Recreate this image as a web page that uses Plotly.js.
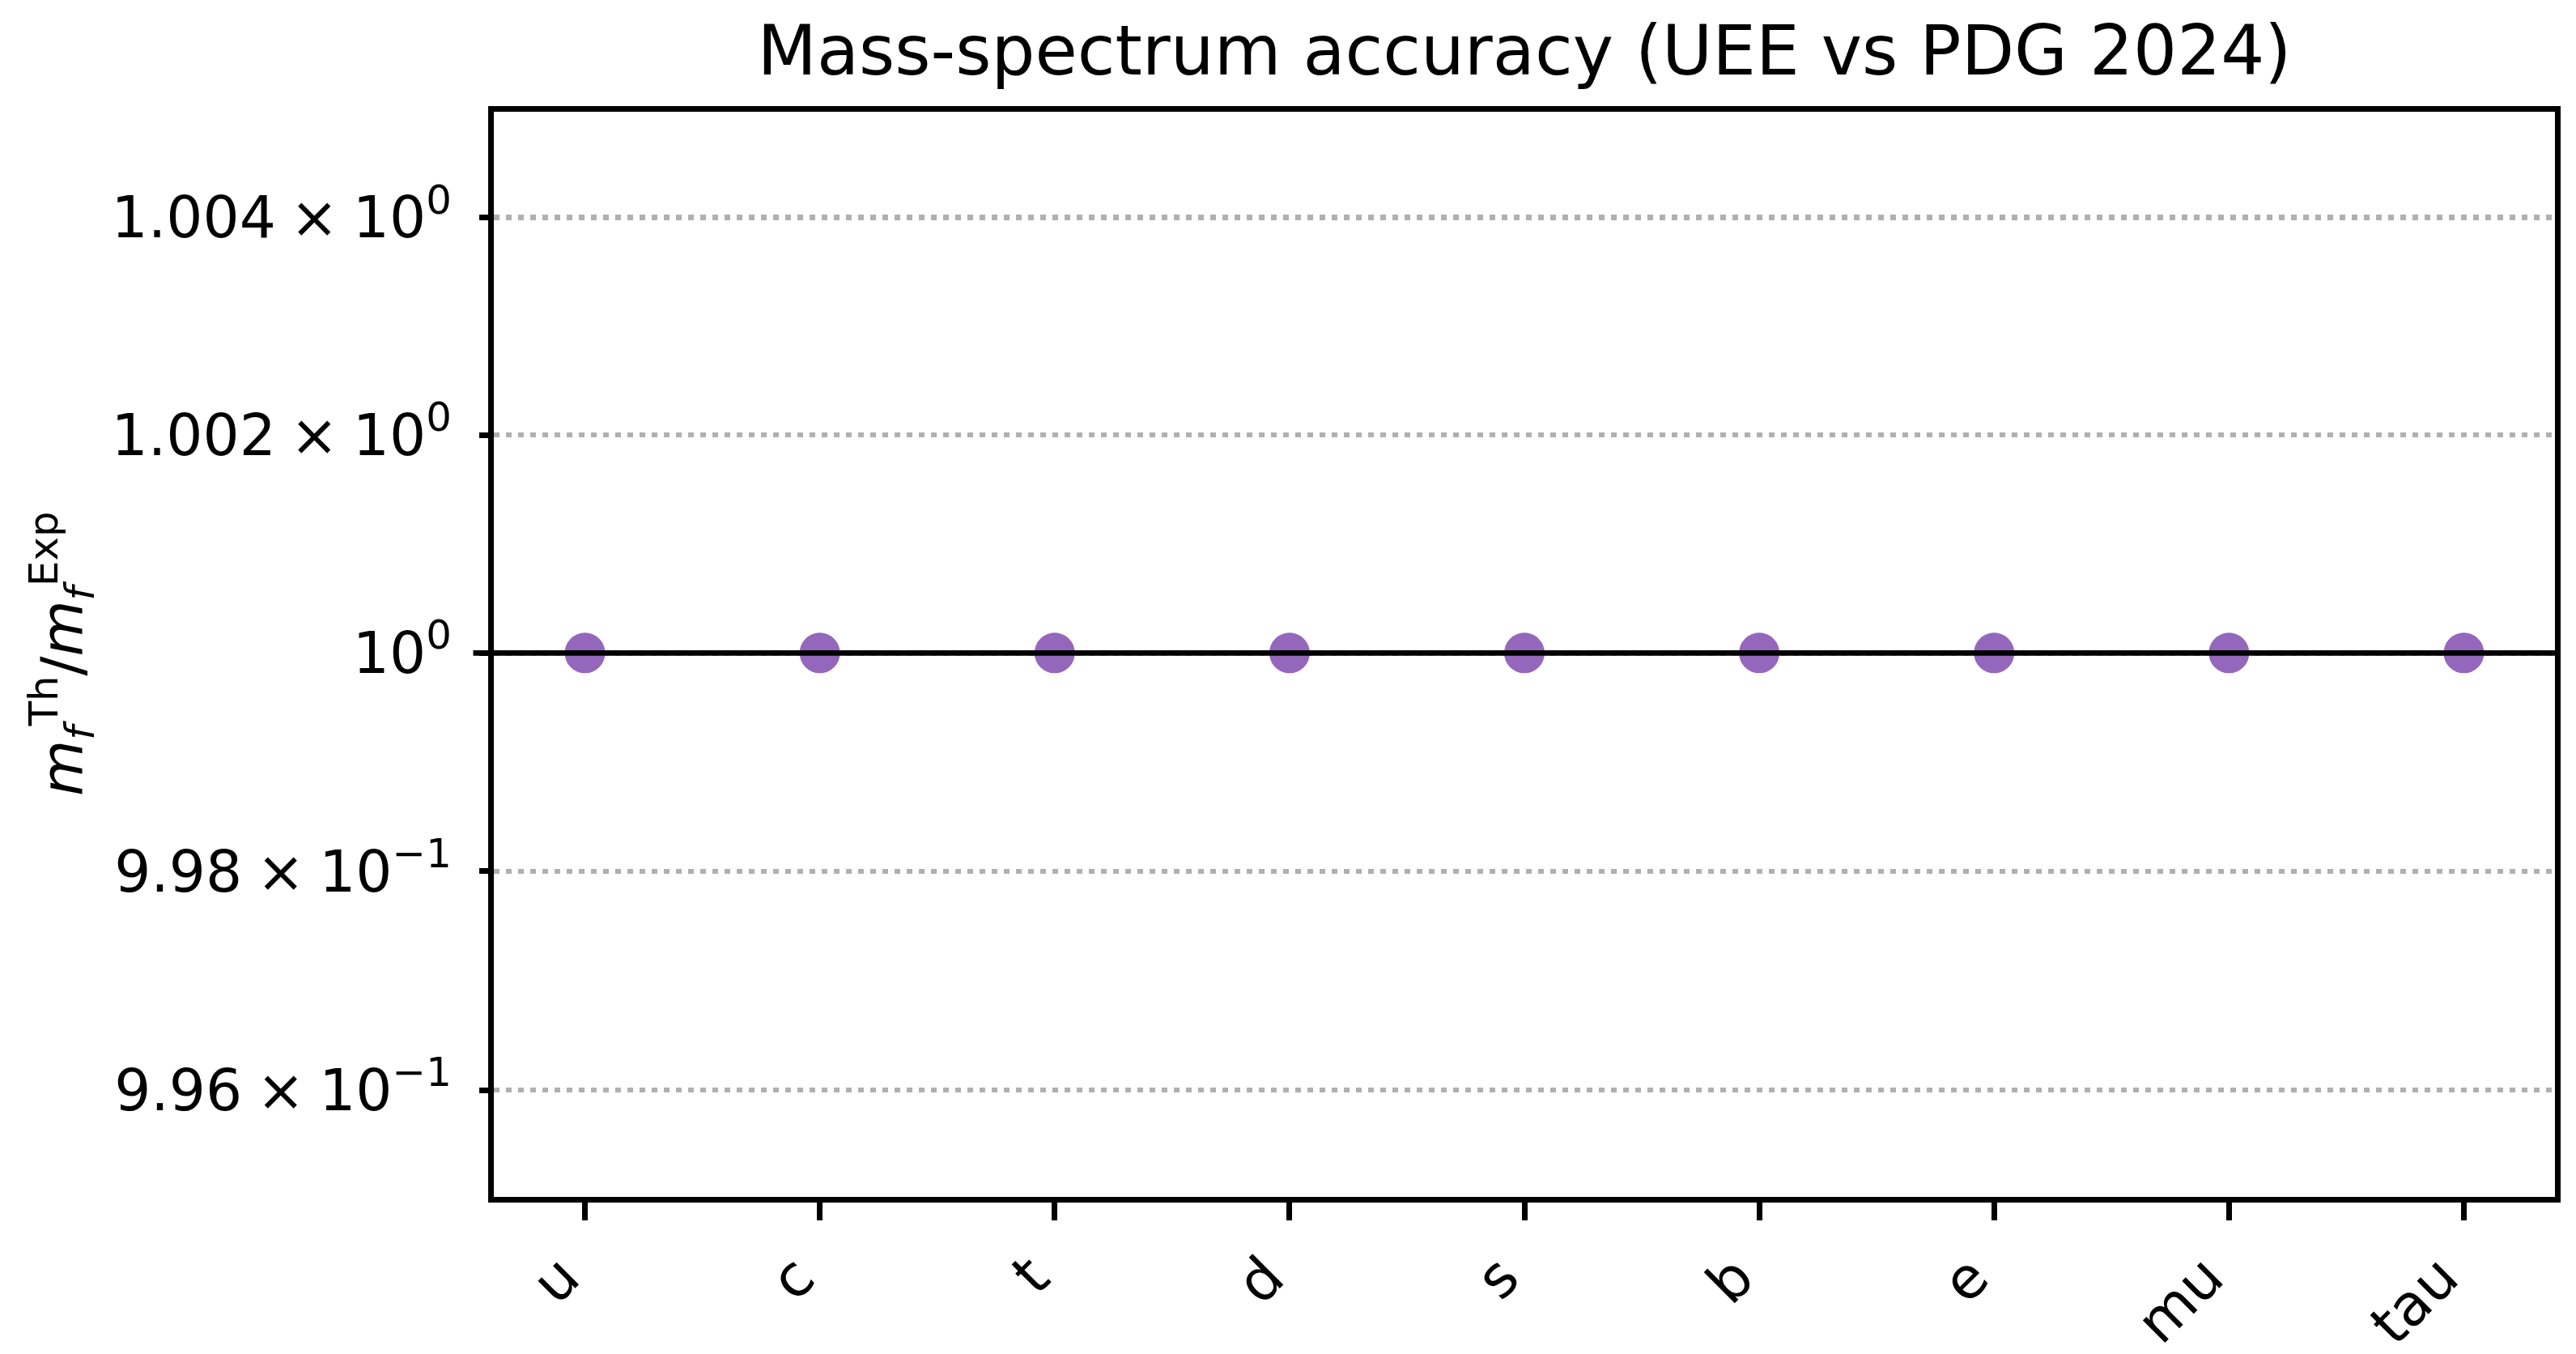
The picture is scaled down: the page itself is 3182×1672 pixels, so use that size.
<!DOCTYPE html>
<html>
<head>
<meta charset="utf-8">
<script src="https://cdn.plot.ly/plotly-3.0.1.min.js"></script>
<style>html,body{margin:0;padding:0;background:#fff;}#chart{width:3182px;height:1672px;}</style>
</head>
<body>
<div id="chart"></div>
<script>
// Data
const fermions = ["u", "c", "t", "d", "s", "b", "e", "mu", "tau"];
const massRatio = [1.0, 1.0, 1.0, 1.0, 1.0, 1.0, 1.0, 1.0, 1.0];
const yTickVals = [0.996, 0.998, 1.0, 1.002, 1.004];
const yTickText = ["9.96\u2005×\u200510<sup>−1</sup>", "9.98\u2005×\u200510<sup>−1</sup>", "10<sup>0</sup>", "1.002\u2005×\u200510<sup>0</sup>", "1.004\u2005×\u200510<sup>0</sup>"];
const referenceLine = 1.0;
const yLimits = [0.995, 1.005];

const W = 3182, H = 1672;
const mL = 610, mR = 26, mT = 138, mB = 194;
const plotW = W - mL - mR, plotH = H - mT - mB;
const lineHalf = 3.5;
// x range padded so axis line centres sit at -0.4 / 8.4
const xUnit = (plotW + 2 * lineHalf) / 8.8;
const xRange = [-0.4 + lineHalf / xUnit, fermions.length - 1 + 0.4 - lineHalf / xUnit];
const lo = Math.log10(yLimits[0]), hi = Math.log10(yLimits[1]);
const yUnit = (hi - lo) / (plotH + 2 * lineHalf);
const yRange = [lo + lineHalf * yUnit, hi - lineHalf * yUnit];

const font = "DejaVu Sans";
const trace = {
  x: fermions,
  y: massRatio,
  type: "scatter",
  mode: "markers",
  marker: {color: "#9467bd", size: 50, line: {width: 0}},
  showlegend: false,
  hoverinfo: "skip"
};

const layout = {
  width: W, height: H,
  margin: {l: mL, r: mR, t: mT, b: mB, pad: 0},
  paper_bgcolor: "#ffffff",
  plot_bgcolor: "#ffffff",
  font: {family: font, size: 71, color: "#000"},
  showlegend: false,
  title: {
    text: "Mass-spectrum accuracy (UEE vs PDG 2024)",
    font: {family: font, size: 85, color: "#000"},
    x: 0.5 * (mL + W - mR) / W, xanchor: "center",
    y: 1 - 62 / H, yanchor: "middle", xref: "container", yref: "container"
  },
  xaxis: {
    type: "category",
    range: xRange,
    showline: true, linecolor: "#000", linewidth: 7, mirror: true,
    ticks: "outside", ticklen: 22, tickwidth: 7, tickcolor: "#000",
    tickangle: -45,
    ticklabelshift: -28,
    tickfont: {family: font, size: 71, color: "#000"},
    showgrid: false, zeroline: false,
    fixedrange: true
  },
  yaxis: {
    type: "log",
    range: yRange,
    tickmode: "array",
    tickvals: yTickVals,
    ticktext: yTickText,
    showline: true, linecolor: "#000", linewidth: 7, mirror: true,
    ticks: "outside", ticklen: 11, tickwidth: 7, tickcolor: "#000",
    tickfont: {family: font, size: 71, color: "#000"},
    ticklabelstandoff: 20,
    showgrid: true, gridcolor: "#b0b0b0", gridwidth: 6.5, griddash: "7px,8px",
    zeroline: false,
    fixedrange: true
  },
  shapes: [{
    type: "line", layer: "above",
    xref: "paper", yref: "y",
    x0: -(22 + lineHalf) / plotW, x1: 1,
    y0: referenceLine, y1: referenceLine,
    line: {color: "#000", width: 6.7}
  }],
  annotations: [{
    text: "<i>m</i><sub><i>f</i></sub><sup>Th</sup>/<i>m</i><sub><i>f</i></sub><sup>Exp</sup>",
    textangle: -90,
    xref: "paper", yref: "paper",
    x: (76 - mL) / plotW, y: 0.5 + (808 - (mT + plotH / 2)) / -plotH,
    xanchor: "center", yanchor: "middle",
    showarrow: false,
    font: {family: font, size: 71, color: "#000"}
  }]
};

Plotly.newPlot("chart", [trace], layout, {displayModeBar: false, staticPlot: true});
</script>
</body>
</html>
